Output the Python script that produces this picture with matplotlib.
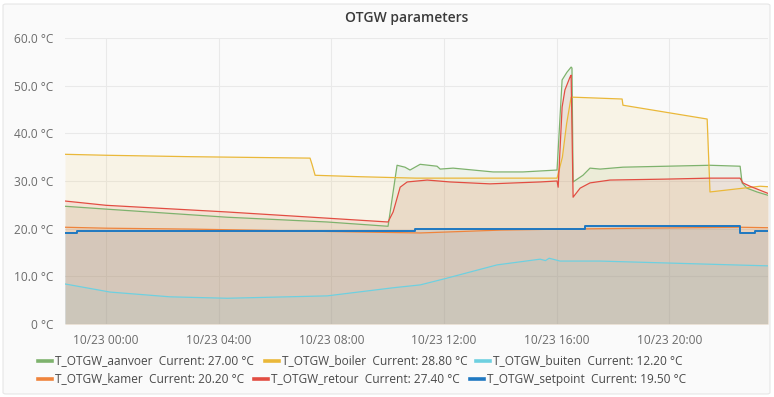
import numpy as np
import pandas as pd
import matplotlib
matplotlib.use("Agg")
import matplotlib.pyplot as plt
import matplotlib.dates as mdates
from matplotlib.ticker import FuncFormatter, MultipleLocator
from matplotlib.patches import FancyBboxPatch
from matplotlib.lines import Line2D

plt.rcParams['font.family'] = ['Open Sans', 'DejaVu Sans']

# -------------------------
# Data (hours relative to 10/23 00:00, temperatures in °C)
# -------------------------
aanvoer_h = [-1.46, 0.0, 4.3, 7.85, 10.01, 10.33, 10.61, 10.79, 11.15, 11.75, 11.86, 12.32,
             13.03, 13.74, 14.8, 16.01, 16.19, 16.36, 16.51, 16.54, 16.58, 16.93, 17.18,
             17.54, 18.35, 21.44, 22.51, 22.58, 22.75, 23.11, 23.5]
aanvoer_t = [24.7, 24.1, 22.4, 21.4, 20.5, 33.3, 32.9, 32.3, 33.5, 33.1, 32.5, 32.7,
             32.3, 31.9, 31.9, 32.3, 51.2, 52.8, 53.9, 53.7, 29.8, 31.2, 32.7,
             32.5, 32.9, 33.3, 33.1, 29.6, 28.5, 27.7, 27.0]

boiler_h = [-1.46, 0.0, 3.0, 7.24, 7.31, 7.42, 9.0, 11.0, 16.01, 16.2, 16.35, 16.51,
            18.32, 18.35, 21.34, 21.44, 23.22, 23.5]
boiler_t = [35.6, 35.4, 35.1, 34.8, 33.5, 31.2, 30.9, 30.6, 30.6, 35.0, 42.0, 47.6,
            47.2, 45.9, 43.0, 27.7, 28.9, 28.8]

buiten_h = [-1.46, 0.14, 2.27, 4.3, 7.85, 10.19, 11.15, 11.96, 13.88, 15.41, 15.6, 15.73,
            16.12, 17.54, 19.91, 22.26, 23.5]
buiten_t = [8.4, 6.7, 5.7, 5.4, 5.9, 7.6, 8.2, 9.4, 12.4, 13.6, 13.3, 13.8,
            13.2, 13.2, 12.8, 12.4, 12.2]

kamer_h = [-1.46, 0.0, 3.1, 9.0, 11.15, 14.0, 16.1, 19.0, 22.5, 23.5]
kamer_t = [20.3, 20.1, 19.9, 19.3, 19.1, 19.7, 19.9, 20.1, 20.3, 20.2]

retour_h = [-1.46, 0.0, 4.3, 7.85, 10.01, 10.19, 10.44, 10.69, 11.4, 12.21, 13.63, 15.41,
            16.01, 16.05, 16.19, 16.29, 16.47, 16.51, 16.58, 16.83, 17.18, 17.89, 19.91,
            21.44, 22.51, 22.61, 22.86, 23.5]
retour_t = [25.8, 24.9, 23.5, 22.2, 21.4, 23.5, 28.7, 29.8, 30.2, 29.8, 29.4, 29.8,
            30.0, 28.7, 45.5, 49.1, 51.8, 52.2, 26.6, 28.5, 29.6, 30.2, 30.4,
            30.6, 30.6, 29.6, 28.9, 27.4]

setpoint_h = [-1.46, -1.02, 10.98, 17.0, 22.52, 23.04, 23.5]
setpoint_t = [19.0, 19.5, 20.0, 20.5, 19.0, 19.5, 19.5]

names = ['T_OTGW_aanvoer', 'T_OTGW_boiler', 'T_OTGW_buiten',
         'T_OTGW_kamer', 'T_OTGW_retour', 'T_OTGW_setpoint']
current = [27.00, 28.80, 12.20, 20.20, 27.40, 19.50]
colors = ['#7EB26D', '#EAB839', '#6ED0E0', '#EF843C', '#E24D42', '#1F78C1']

base = pd.Timestamp('2019-10-23 00:00')


def to_time(hours):
    return base + pd.to_timedelta(np.array(hours), unit='h')


series = [
    (aanvoer_h, aanvoer_t, None),
    (boiler_h, boiler_t, None),
    (buiten_h, buiten_t, None),
    (kamer_h, kamer_t, None),
    (retour_h, retour_t, None),
    (setpoint_h, setpoint_t, 'post'),
]

# -------------------------
# Figure / panel
# -------------------------
W, H = 774, 397
fig = plt.figure(figsize=(W / 100, H / 100), dpi=100)
fig.patch.set_facecolor('white')
panel = FancyBboxPatch((3 / W, 3 / H), 767 / W, 390 / H,
                       boxstyle='round,pad=0,rounding_size=0.004',
                       transform=fig.transFigure, facecolor='#fafafa',
                       edgecolor='#e6e6e6', linewidth=0.8, zorder=0)
fig.add_artist(panel)

ax = fig.add_axes([65 / W, 1 - 324 / H, (768 - 65) / W, (324 - 38) / H])
ax.set_facecolor('none')

for (hh, tt, step), c in zip(series, colors):
    x = to_time(hh)
    if step:
        ax.fill_between(x, tt, 0, step='post', color=c, alpha=0.1, linewidth=0)
        ax.plot(x, tt, drawstyle='steps-post', color=c, linewidth=1.4)
    else:
        ax.fill_between(x, tt, 0, color=c, alpha=0.1, linewidth=0)
        ax.plot(x, tt, color=c, linewidth=0.9)

ax.set_ylim(0, 60)
ax.set_xlim(to_time([-1.46])[0], to_time([23.5])[0])
ax.yaxis.set_major_locator(MultipleLocator(10))
ax.yaxis.set_major_formatter(FuncFormatter(lambda v, p: '0 °C' if v == 0 else f'{v:.1f} °C'))
ax.xaxis.set_major_locator(mdates.HourLocator(byhour=range(0, 24, 4)))
ax.xaxis.set_major_formatter(mdates.DateFormatter('%m/%d %H:%M'))

ax.grid(True, color='#e9e9e9', linewidth=0.8)
ax.set_axisbelow(True)
for s in ax.spines.values():
    s.set_visible(False)
ax.tick_params(length=0, labelsize=8.6, colors='#6b6b6b')
ax.tick_params(axis='x', pad=7)
ax.tick_params(axis='y', pad=8.5)

fig.text(407 / W, 1 - 18 / H, 'OTGW parameters', ha='center', va='center',
         fontsize=10, fontweight=600, color='#3b3b3b')

# -------------------------
# Legend (Grafana style, two rows)
# -------------------------
legend_pos = [(55, 361), (282, 361), (493, 361), (55, 379), (271, 379), (487, 379)]
for (tx, ty), name, cur, c in zip(legend_pos, names, current, colors):
    yy = 1 - ty / H
    fig.add_artist(Line2D([(tx - 17) / W, (tx - 3) / W], [yy, yy],
                          transform=fig.transFigure, color=c, linewidth=2.6))
    fig.text(tx / W, yy, f'{name}  Current: {cur:.2f} °C', ha='left', va='center',
             fontsize=8.6, color='#4a4a4a')

fig.savefig('out.png', dpi=100, facecolor=fig.get_facecolor())
